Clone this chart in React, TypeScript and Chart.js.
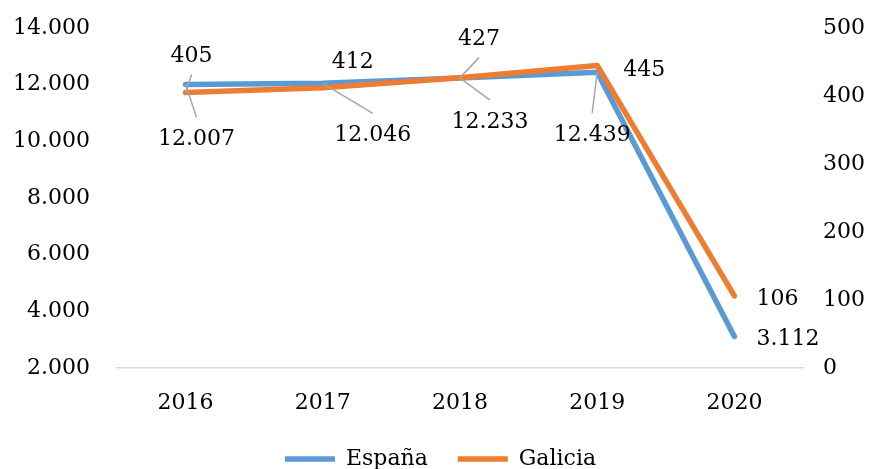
import { useEffect, useRef } from "react";
import { Chart, registerables } from "chart.js";

Chart.register(...registerables);

const categories = ["2016", "2017", "2018", "2019", "2020"];
const espana = [12007, 12046, 12233, 12439, 3112];
const galicia = [405, 412, 427, 445, 106];
const espanaLabels = ["12.007", "12.046", "12.233", "12.439", "3.112"];
const galiciaLabels = ["405", "412", "427", "445", "106"];

const FONT = "'DejaVu Serif', serif";
const FONT_SIZE = 22;

// label placement (styling): offset of the label from its point, alignment, leader line
const espanaLabelPos = [
  { dx: 11, dy: 53, align: "center", leader: true },
  { dx: 50, dy: 50, align: "center", leader: true },
  { dx: 30, dy: 42, align: "center", leader: true },
  { dx: -5, dy: 61, align: "center", leader: true },
  { dx: 22, dy: 1, align: "left", leader: false },
];
const galiciaLabelPos = [
  { dx: 6, dy: -38, align: "center", leader: true },
  { dx: 30, dy: -28, align: "center", leader: false },
  { dx: 19, dy: -40, align: "center", leader: true },
  { dx: 26, dy: 3, align: "left", leader: false },
  { dx: 22, dy: 1, align: "left", leader: false },
];

function fmt(v: number): string {
  const s = Math.round(v).toString();
  return s.replace(/\B(?=(\d{3})+(?!\d))/g, ".");
}

const labelPlugin = {
  id: "pointLabels",
  afterDatasetsDraw(chart: any) {
    const ctx = chart.ctx;
    const cfgs = [
      { texts: espanaLabels, pos: espanaLabelPos },
      { texts: galiciaLabels, pos: galiciaLabelPos },
    ];
    ctx.save();
    ctx.font = `${FONT_SIZE}px ${FONT}`;
    ctx.textBaseline = "middle";
    cfgs.forEach((cfg, di) => {
      const meta = chart.getDatasetMeta(di);
      meta.data.forEach((pt: any, i: number) => {
        const p = cfg.pos[i];
        const cx = pt.x + p.dx;
        const cy = pt.y + p.dy;
        if (p.leader) {
          ctx.strokeStyle = "#a6a6a6";
          ctx.lineWidth = 1.5;
          ctx.beginPath();
          ctx.moveTo(pt.x, pt.y);
          ctx.lineTo(cx, cy + (p.dy > 0 ? -20 : 20));
          ctx.stroke();
        }
        ctx.fillStyle = "#000000";
        ctx.textAlign = p.align;
        ctx.fillText(cfg.texts[i], cx, cy + 2);
      });
    });
    ctx.restore();
  },
};

export default function App() {
  const ref = useRef<HTMLCanvasElement | null>(null);

  useEffect(() => {
    document.body.style.margin = "0";
    if (!ref.current) return;
    const chart = new Chart(ref.current, {
      type: "line",
      data: {
        labels: categories,
        datasets: [
          {
            label: "España",
            data: espana,
            borderColor: "#5B9BD5",
            backgroundColor: "#5B9BD5",
            borderWidth: 5.5,
            borderCapStyle: "round",
            borderJoinStyle: "round",
            pointRadius: 0,
            tension: 0,
            yAxisID: "y",
            order: 2,
          },
          {
            label: "Galicia",
            data: galicia,
            borderColor: "#ED7D31",
            backgroundColor: "#ED7D31",
            borderWidth: 5.5,
            borderCapStyle: "round",
            borderJoinStyle: "round",
            pointRadius: 0,
            tension: 0,
            yAxisID: "y1",
            order: 1,
          },
        ],
      },
      options: {
        responsive: false,
        animation: false,
        devicePixelRatio: 1,
        layout: { padding: { top: 28, left: 10, right: 0, bottom: 0 } },
        plugins: {
          tooltip: { enabled: false },
          legend: {
            position: "bottom",
            labels: {
              usePointStyle: true,
              pointStyle: "line",
              pointStyleWidth: 50,
              padding: 30,
              color: "#000000",
              font: { family: FONT, size: FONT_SIZE },
              sort: (a: any, b: any) => a.datasetIndex - b.datasetIndex,
            },
          },
        },
        scales: {
          x: {
            type: "category",
            offset: true,
            grid: { display: false, drawTicks: false },
            border: { display: true, color: "#d9d9d9", width: 1.5 },
            ticks: {
              color: "#000000",
              padding: 22,
              font: { family: FONT, size: FONT_SIZE },
              maxRotation: 0,
            },
            afterFit: (s: any) => {
              s.height = 50;
              s.paddingLeft = 0;
              s.paddingRight = 0;
            },
          },
          y: {
            position: "left",
            min: 2000,
            max: 14000,
            grid: { display: false, drawTicks: false },
            border: { display: false },
            ticks: {
              stepSize: 2000,
              color: "#000000",
              padding: 27,
              font: { family: FONT, size: FONT_SIZE },
              callback: (v: any) => fmt(Number(v)),
            },
            afterFit: (s: any) => {
              s.width = 107;
              s.paddingTop = 0;
              s.paddingBottom = 0;
            },
          },
          y1: {
            position: "right",
            min: 0,
            max: 500,
            grid: { display: false, drawTicks: false },
            border: { display: false },
            ticks: {
              stepSize: 100,
              color: "#000000",
              padding: 20,
              font: { family: FONT, size: FONT_SIZE },
              callback: (v: any) => fmt(Number(v)),
            },
            afterFit: (s: any) => {
              s.width = 68;
              s.paddingTop = 0;
              s.paddingBottom = 0;
            },
          },
        },
      },
      plugins: [labelPlugin],
    } as any);
    return () => chart.destroy();
  }, []);

  return (
    <div style={{ width: 871, height: 480 }}>
      <canvas ref={ref} width={871} height={480} style={{ display: "block" }} />
    </div>
  );
}
